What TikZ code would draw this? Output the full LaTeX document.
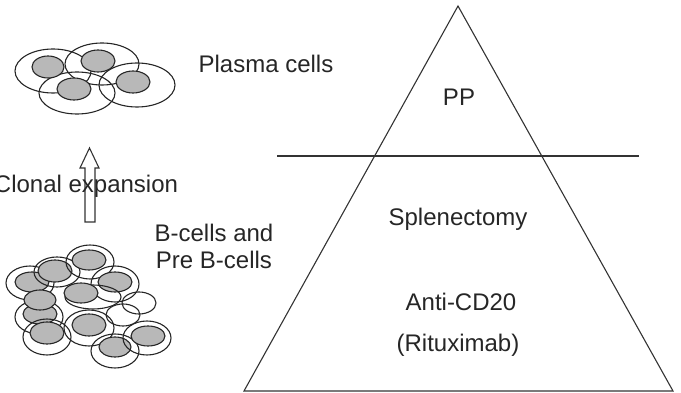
\documentclass[tikz,border=0pt]{standalone}
\usepackage{fontspec}
\setmainfont{Liberation Sans}
\tikzset{
  cellrim/.style={draw=black!85,line width=1.1pt},
  nucleus/.style={draw=black!85,line width=1.1pt,fill=black!28},
  lbl/.style={font=\fontsize{24}{27}\selectfont,text=black!85,align=center,inner sep=0pt},
  outline/.style={draw=black!80,line width=1.1pt}
}
\newcommand{\cellat}[8]{%
  \draw[cellrim] (#1,#2) ellipse [x radius=#3,y radius=#4];
  \draw[nucleus] (#5,#6) ellipse [x radius=#7,y radius=#8];}
\begin{document}
\begin{tikzpicture}[x=1pt,y=-1pt]
\useasboundingbox (0,0) rectangle (681,393);
% mature cells, upper left
\draw[cellrim] (53,71) ellipse [x radius=38,y radius=22];
\draw[cellrim] (102,64) ellipse [x radius=37,y radius=21];
\draw[cellrim] (137,85) ellipse [x radius=38,y radius=22];
\draw[cellrim] (77,93) ellipse [x radius=38,y radius=21];
\draw[nucleus] (48,67) ellipse [x radius=16,y radius=11];
\draw[nucleus] (98,61) ellipse [x radius=17,y radius=11];
\draw[nucleus] (133,82) ellipse [x radius=17,y radius=11];
\draw[nucleus] (74,89) ellipse [x radius=17,y radius=11];
% precursor cells, lower left
\draw[cellrim] (139,303) ellipse [x radius=17,y radius=11];
\draw[cellrim] (123,315) ellipse [x radius=17,y radius=11];
\cellat{30}{283}{24}{17}{32}{282}{17}{10}
\cellat{57}{272}{23}{15}{55}{271}{17}{11}
\cellat{90}{262}{24}{17}{89}{260}{17}{10}
\cellat{115}{284}{24}{18}{115}{282}{17}{10}
\cellat{39}{317}{24}{17}{40}{314}{17}{10}
\cellat{93}{297}{28}{12}{81}{293}{17}{10}
\draw[nucleus] (40,300) ellipse [x radius=16,y radius=10];
\cellat{47}{337}{24}{18}{47}{333}{17}{11}
\cellat{89}{328}{25}{18}{89}{325}{17}{11}
\cellat{115}{351}{24}{17}{115}{347}{16}{10}
\cellat{147}{338}{24}{17}{148}{336}{17}{10}
% expansion arrow
\draw[outline,line join=miter] (85,222) -- (85,168) -- (80,168) -- (89.5,148) -- (99,168) -- (95,168) -- (95,222) -- cycle;
\node[lbl,anchor=base] (clonal) at (86,193) {Clonal expansion};
% labels beside the cells
\node[lbl,anchor=base] (plasma) at (266,73) {Plasma cells};
\node[lbl] (bcells) at (214,246) {B-cells and\\Pre B-cells};
% treatment pyramid
\coordinate (apex) at (458,6);
\coordinate (baseL) at (244,391);
\coordinate (baseR) at (673,391);
\coordinate (sepL) at (277,156);
\coordinate (sepR) at (639,156);
\draw[outline,line join=miter] (apex) -- (baseR) -- (baseL) -- cycle;
\draw[outline] (sepL) -- (sepR);
\node[lbl,anchor=base] (pp) at (459,106) {PP};
\node[lbl,anchor=base] (spl) at (458,226) {Splenectomy};
\node[lbl,anchor=base] (anti) at (461,311) {Anti-CD20};
\node[lbl,anchor=base] (ritux) at (458,352) {(Rituximab)};
\end{tikzpicture}
\end{document}
